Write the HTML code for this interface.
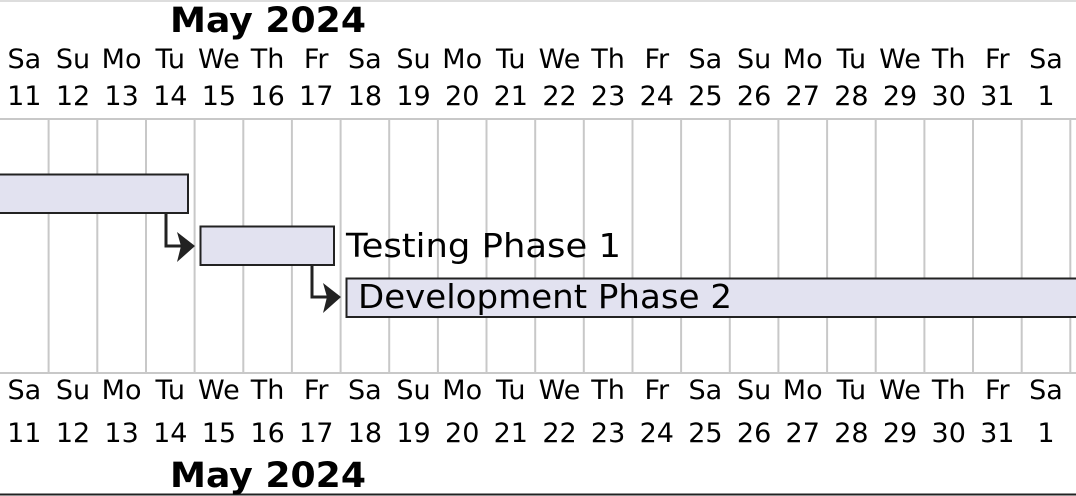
<!DOCTYPE html>
<html><head><meta charset="utf-8"><style>
html,body{margin:0;padding:0;background:#fff;width:1076px;height:496px;overflow:hidden}
svg{display:block}
text{font-family:"DejaVu Sans","Liberation Sans",sans-serif;fill:#000}
.d{font-size:27px;text-anchor:middle}
.t{font-size:35px;font-weight:bold}
</style></head><body>
<svg width="1076" height="496" viewBox="0 0 1076 496" xmlns="http://www.w3.org/2000/svg">
<line x1="0" y1="1" x2="1076" y2="1" stroke="#ddd" stroke-width="2"/>
<line x1="0" y1="494.5" x2="1076" y2="494.5" stroke="#222" stroke-width="2"/>
<text class="t" x="170" y="32" textLength="196" lengthAdjust="spacingAndGlyphs">May 2024</text>
<text class="t" x="170" y="487" textLength="196" lengthAdjust="spacingAndGlyphs">May 2024</text>
<g class="d">
<g transform="translate(0,68)">
<text class="d" x="24.3">Sa</text><text class="d" x="73">Su</text><text class="d" x="121.6">Mo</text><text class="d" x="170.3">Tu</text><text class="d" x="218.9">We</text><text class="d" x="267.6">Th</text><text class="d" x="316.2">Fr</text><text class="d" x="364.9">Sa</text><text class="d" x="413.5">Su</text><text class="d" x="462.2">Mo</text><text class="d" x="510.8">Tu</text><text class="d" x="559.5">We</text><text class="d" x="608.1">Th</text><text class="d" x="656.8">Fr</text><text class="d" x="705.4">Sa</text><text class="d" x="754.1">Su</text><text class="d" x="802.7">Mo</text><text class="d" x="851.4">Tu</text><text class="d" x="900">We</text><text class="d" x="948.7">Th</text><text class="d" x="997.3">Fr</text><text class="d" x="1046">Sa</text>
</g>
<g transform="translate(0,105)">
<text class="d" x="24.3">11</text><text class="d" x="73">12</text><text class="d" x="121.6">13</text><text class="d" x="170.3">14</text><text class="d" x="218.9">15</text><text class="d" x="267.6">16</text><text class="d" x="316.2">17</text><text class="d" x="364.9">18</text><text class="d" x="413.5">19</text><text class="d" x="462.2">20</text><text class="d" x="510.8">21</text><text class="d" x="559.5">22</text><text class="d" x="608.1">23</text><text class="d" x="656.8">24</text><text class="d" x="705.4">25</text><text class="d" x="754.1">26</text><text class="d" x="802.7">27</text><text class="d" x="851.4">28</text><text class="d" x="900">29</text><text class="d" x="948.7">30</text><text class="d" x="997.3">31</text><text class="d" x="1046">1</text>
</g>
<g transform="translate(0,399)">
<text class="d" x="24.3">Sa</text><text class="d" x="73">Su</text><text class="d" x="121.6">Mo</text><text class="d" x="170.3">Tu</text><text class="d" x="218.9">We</text><text class="d" x="267.6">Th</text><text class="d" x="316.2">Fr</text><text class="d" x="364.9">Sa</text><text class="d" x="413.5">Su</text><text class="d" x="462.2">Mo</text><text class="d" x="510.8">Tu</text><text class="d" x="559.5">We</text><text class="d" x="608.1">Th</text><text class="d" x="656.8">Fr</text><text class="d" x="705.4">Sa</text><text class="d" x="754.1">Su</text><text class="d" x="802.7">Mo</text><text class="d" x="851.4">Tu</text><text class="d" x="900">We</text><text class="d" x="948.7">Th</text><text class="d" x="997.3">Fr</text><text class="d" x="1046">Sa</text>
</g>
<g transform="translate(0,442)">
<text class="d" x="24.3">11</text><text class="d" x="73">12</text><text class="d" x="121.6">13</text><text class="d" x="170.3">14</text><text class="d" x="218.9">15</text><text class="d" x="267.6">16</text><text class="d" x="316.2">17</text><text class="d" x="364.9">18</text><text class="d" x="413.5">19</text><text class="d" x="462.2">20</text><text class="d" x="510.8">21</text><text class="d" x="559.5">22</text><text class="d" x="608.1">23</text><text class="d" x="656.8">24</text><text class="d" x="705.4">25</text><text class="d" x="754.1">26</text><text class="d" x="802.7">27</text><text class="d" x="851.4">28</text><text class="d" x="900">29</text><text class="d" x="948.7">30</text><text class="d" x="997.3">31</text><text class="d" x="1046">1</text>
</g>
</g>
<g stroke="#c8c8c8" stroke-width="2">
<line x1="0" y1="119" x2="1076" y2="119"/>
<line x1="0" y1="373" x2="1076" y2="373"/>
<line x1="48.6" y1="119" x2="48.6" y2="373"/><line x1="97.3" y1="119" x2="97.3" y2="373"/><line x1="146" y1="119" x2="146" y2="373"/><line x1="194.6" y1="119" x2="194.6" y2="373"/><line x1="243.3" y1="119" x2="243.3" y2="373"/><line x1="291.9" y1="119" x2="291.9" y2="373"/><line x1="340.6" y1="119" x2="340.6" y2="373"/><line x1="389.2" y1="119" x2="389.2" y2="373"/><line x1="437.9" y1="119" x2="437.9" y2="373"/><line x1="486.5" y1="119" x2="486.5" y2="373"/><line x1="535.2" y1="119" x2="535.2" y2="373"/><line x1="583.8" y1="119" x2="583.8" y2="373"/><line x1="632.5" y1="119" x2="632.5" y2="373"/><line x1="681.1" y1="119" x2="681.1" y2="373"/><line x1="729.8" y1="119" x2="729.8" y2="373"/><line x1="778.4" y1="119" x2="778.4" y2="373"/><line x1="827.1" y1="119" x2="827.1" y2="373"/><line x1="875.7" y1="119" x2="875.7" y2="373"/><line x1="924.4" y1="119" x2="924.4" y2="373"/><line x1="973" y1="119" x2="973" y2="373"/><line x1="1021.7" y1="119" x2="1021.7" y2="373"/><line x1="1070.3" y1="119" x2="1070.3" y2="373"/>
</g>
<text x="346" y="257" font-size="33" textLength="275" lengthAdjust="spacingAndGlyphs">Testing Phase 1</text>
<g fill="#e2e2f0" stroke="#222" stroke-width="2">
<rect x="-5" y="174.5" width="193" height="38.5"/>
<rect x="200.5" y="226.5" width="133.5" height="38.5"/>
<rect x="346.5" y="278.5" width="740" height="38.5"/>
</g>
<text x="358" y="308" font-size="33" textLength="374" lengthAdjust="spacingAndGlyphs">Development Phase 2</text>
<g stroke="#222" stroke-width="3" fill="none">
<polyline points="166,213 166,246 182,246"/>
<polyline points="312,265 312,297 328,297"/>
</g>
<g fill="#222">
<polygon points="177,232 195,246 177,262 181,246"/>
<polygon points="323,283 341,297 323,313 327,297"/>
</g>
</svg>
</body></html>
